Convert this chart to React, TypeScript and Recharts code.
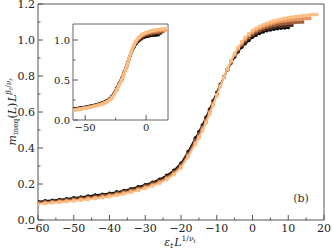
import React from "react";
import { ScatterChart, Scatter, XAxis, YAxis, ReferenceArea } from "recharts";

// main panel: scaled x values shared by every system size
const MAIN_X = [
  -60, -58, -56, -54, -52, -50, -48, -46, -44, -42, -40, -38, -36, -34, -32, -30, -28, -26, -24, -22, -20, -18,
  -16, -15, -14, -13, -12, -11, -10, -9, -8, -7, -6, -5, -4, -3, -2, -1, 0, 1, 2, 3, 4, 5, 6, 7, 8, 9, 10, 11, 12,
  13, 14, 15, 16, 17, 18,
];

const MAIN_L1 = [
  0.102, 0.106, 0.11, 0.114, 0.118, 0.123, 0.128, 0.133, 0.138, 0.143, 0.149, 0.156, 0.164, 0.174, 0.184, 0.196, 0.21,
  0.226, 0.248, 0.276, 0.315, 0.38,
  0.455, 0.49, 0.528, 0.57, 0.615, 0.662, 0.708, 0.752, 0.795, 0.835, 0.872, 0.905, 0.935, 0.96, 0.98, 0.997, 1.015,
  1.027, 1.037, 1.045, 1.051, 1.056, 1.06, 1.063, 1.065, 1.067, 1.069,
];
const MAIN_L2 = [
  0.099, 0.103, 0.106, 0.11, 0.114, 0.119, 0.123, 0.128, 0.133, 0.138, 0.144, 0.151, 0.159, 0.169, 0.179, 0.191, 0.205,
  0.221, 0.242, 0.27, 0.309, 0.372,
  0.446, 0.481, 0.52, 0.562, 0.608, 0.656, 0.704, 0.75, 0.794, 0.836, 0.875, 0.91, 0.941, 0.968, 0.989, 1.007, 1.024,
  1.036, 1.047, 1.055, 1.061, 1.066, 1.07, 1.073, 1.076, 1.078, 1.08, 1.082,
];
const MAIN_L3 = [
  0.096, 0.099, 0.102, 0.106, 0.11, 0.114, 0.119, 0.124, 0.128, 0.134, 0.14, 0.147, 0.155, 0.164, 0.174, 0.186, 0.2,
  0.215, 0.236, 0.264, 0.302, 0.365,
  0.438, 0.473, 0.512, 0.555, 0.601, 0.65, 0.699, 0.747, 0.793, 0.838, 0.878, 0.915, 0.948, 0.975, 0.998, 1.016, 1.034,
  1.046, 1.056, 1.065, 1.072, 1.078, 1.083, 1.087, 1.09, 1.092, 1.094, 1.096, 1.098, 1.099, 1.1,
];
const MAIN_L4 = [
  0.092, 0.095, 0.098, 0.102, 0.106, 0.11, 0.114, 0.119, 0.124, 0.129, 0.135, 0.142, 0.15, 0.159, 0.169, 0.181, 0.194,
  0.21, 0.231, 0.258, 0.296, 0.357,
  0.429, 0.464, 0.505, 0.547, 0.595, 0.644, 0.695, 0.745, 0.793, 0.839, 0.881, 0.92, 0.954, 0.983, 1.006, 1.026, 1.043,
  1.055, 1.066, 1.075, 1.082, 1.089, 1.095, 1.1, 1.104, 1.107, 1.11, 1.112, 1.114, 1.116, 1.118, 1.119, 1.12,
];
const MAIN_L5 = [
  0.089, 0.092, 0.095, 0.098, 0.102, 0.106, 0.11, 0.114, 0.119, 0.124, 0.13, 0.137, 0.145, 0.154, 0.164, 0.176, 0.189,
  0.204, 0.225, 0.252, 0.29, 0.35,
  0.42, 0.455, 0.497, 0.54, 0.588, 0.638, 0.69, 0.742, 0.792, 0.84, 0.884, 0.925, 0.96, 0.99, 1.015, 1.035, 1.052,
  1.065, 1.076, 1.085, 1.093, 1.1, 1.106, 1.111, 1.116, 1.12, 1.124, 1.127, 1.13, 1.133, 1.135, 1.137, 1.139, 1.141,
  1.142,
];

// inset
const INSET_X = [
  -60, -58, -56, -54, -52, -50, -48, -46, -44, -42, -40, -38, -36, -34, -32, -30, -28, -26, -24, -22, -20, -18, -16,
  -14, -12, -10, -8, -6, -4, -2, 0, 2, 4, 6, 8, 10, 12, 14, 16, 18,
];
const INSET_L1 = [
  0.135, 0.14, 0.145, 0.15, 0.155, 0.16, 0.166, 0.172, 0.178, 0.185, 0.193, 0.202, 0.212, 0.224, 0.24, 0.262, 0.292,
  0.335, 0.395, 0.455, 0.515, 0.59, 0.675, 0.765, 0.85, 0.915, 0.96, 0.992, 1.015, 1.032, 1.043, 1.051, 1.057, 1.061,
  1.064, 1.066,
];
const INSET_L2 = [
  0.131, 0.136, 0.141, 0.146, 0.151, 0.156, 0.162, 0.169, 0.175, 0.182, 0.19, 0.199, 0.209, 0.221, 0.236, 0.258, 0.288,
  0.331, 0.391, 0.451, 0.511, 0.587, 0.673, 0.766, 0.853, 0.921, 0.969, 1.003, 1.027, 1.045, 1.057, 1.065, 1.071, 1.076,
  1.08, 1.083, 1.085,
];
const INSET_L3 = [
  0.128, 0.133, 0.138, 0.143, 0.148, 0.153, 0.159, 0.165, 0.172, 0.179, 0.187, 0.196, 0.206, 0.218, 0.233, 0.255, 0.284,
  0.327, 0.387, 0.447, 0.507, 0.584, 0.672, 0.767, 0.856, 0.927, 0.978, 1.013, 1.039, 1.057, 1.07, 1.079, 1.086, 1.092,
  1.096, 1.1, 1.103, 1.105,
];
const INSET_L4 = [
  0.124, 0.129, 0.134, 0.139, 0.144, 0.149, 0.155, 0.162, 0.168, 0.175, 0.183, 0.192, 0.202, 0.214, 0.229, 0.251, 0.28,
  0.322, 0.382, 0.442, 0.503, 0.581, 0.67, 0.768, 0.859, 0.933, 0.987, 1.024, 1.051, 1.07, 1.083, 1.093, 1.101, 1.107,
  1.112, 1.116, 1.12, 1.123, 1.125,
];
const INSET_L5 = [
  0.12, 0.125, 0.13, 0.135, 0.14, 0.146, 0.152, 0.158, 0.165, 0.172, 0.18, 0.189, 0.199, 0.211, 0.226, 0.247, 0.276,
  0.318, 0.378, 0.438, 0.5, 0.578, 0.668, 0.77, 0.862, 0.938, 0.995, 1.034, 1.062, 1.08, 1.094, 1.105, 1.114, 1.121,
  1.127, 1.132, 1.136, 1.139, 1.142, 1.145,
];

const COLORS = ["#000000", "#4d2e1c", "#9c5f3b", "#e8965c", "#fdbd84"];

const MAIN_XTICKS = [-60, -55, -50, -45, -40, -35, -30, -25, -20, -15, -10, -5, 0, 5, 10, 15, 20];
const MAIN_YTICKS = [0, 0.1, 0.2, 0.3, 0.4, 0.5, 0.6, 0.7, 0.8, 0.9, 1.0, 1.1, 1.2];
const INSET_XTICKS = [-50, -25, 0];
const INSET_YTICKS = [0, 0.25, 0.5, 0.75, 1.0];

const FONT = "DejaVu Serif, serif";
const AXIS = "#555";

const toPoints = (xs: number[], ys: number[]) => ys.map((y, i) => ({ x: xs[i], y }));
const fmtX = (v: number) => (v < 0 ? "\u2212" + Math.abs(v) : String(v));

const square = (color: string, s: number) => (p: any) =>
  <rect x={p.cx - s / 2} y={p.cy - s / 2} width={s} height={s} fill={color} />;
const dot = (color: string, r: number) => (p: any) => <circle cx={p.cx} cy={p.cy} r={r} fill={color} />;

const makeXTick = (isMajor: (v: number) => boolean, len: number, fs: number) => (props: any) => {
  const { x, y, payload } = props;
  const v = payload.value;
  const major = isMajor(v);
  return (
    <g>
      <line x1={x} x2={x} y1={y} y2={y - (major ? len : len / 2)} stroke={AXIS} />
      {major && (
        <text x={x} y={y + fs + 1} textAnchor="middle" style={{ fontFamily: FONT }} fontSize={fs} fill="#222">
          {fmtX(v)}
        </text>
      )}
    </g>
  );
};

const makeYTick = (isMajor: (v: number) => boolean, len: number, fs: number) => (props: any) => {
  const { x, y, payload } = props;
  const v = payload.value;
  const major = isMajor(v);
  return (
    <g>
      <line x1={x} x2={x + (major ? len : len / 2)} y1={y} y2={y} stroke={AXIS} />
      {major && (
        <text x={x - 3} y={y + fs * 0.36} textAnchor="end" style={{ fontFamily: FONT }} fontSize={fs} fill="#222">
          {v.toFixed(1)}
        </text>
      )}
    </g>
  );
};

const mainSeries = [MAIN_L1, MAIN_L2, MAIN_L3, MAIN_L4, MAIN_L5];
const insetSeries = [INSET_L1, INSET_L2, INSET_L3, INSET_L4, INSET_L5];

export default function App() {
  return (
    <div style={{ position: "absolute", left: 0, top: 0, width: 332, height: 251, background: "#fff" }}>
      <ScatterChart width={332} height={251} margin={{ top: 4, right: 8, bottom: 0, left: 0 }}>
        <XAxis
          type="number"
          dataKey="x"
          domain={[-60, 20]}
          ticks={MAIN_XTICKS}
          interval={0}
          allowDataOverflow
          height={31}
          tickLine={false}
          tickSize={0}
          tickMargin={0}
          axisLine={false}
          tick={makeXTick((v) => v % 10 === 0, 5, 11)}
        />
        <YAxis
          type="number"
          dataKey="y"
          domain={[0, 1.2]}
          ticks={MAIN_YTICKS}
          interval={0}
          allowDataOverflow
          width={38}
          tickLine={false}
          tickSize={0}
          tickMargin={0}
          axisLine={false}
          tick={makeYTick((v) => Math.round(v * 10) % 2 === 0, 5, 11)}
        />
        <ReferenceArea x1={-60} x2={20} y1={0} y2={1.2} fill="none" stroke={AXIS} strokeWidth={1} />
        {mainSeries.map((ys, i) => (
          <Scatter
            key={i}
            data={toPoints(MAIN_X, ys)}
            fill={COLORS[i]}
            line={{ stroke: COLORS[i], strokeWidth: 1.6 }}
            shape={i === 0 ? dot(COLORS[i], 1.8) : square(COLORS[i], 3.4)}
            isAnimationActive={false}
          />
        ))}
      </ScatterChart>

      <div style={{ position: "absolute", left: 40, top: 20 }}>
        <ScatterChart width={132} height={116} margin={{ top: 4, right: 4, bottom: 0, left: 0 }}>
          <XAxis
            type="number"
            dataKey="x"
            domain={[-60, 18]}
            ticks={INSET_XTICKS}
            interval={0}
            allowDataOverflow
            height={16}
            tickLine={false}
            tickSize={0}
            tickMargin={0}
            axisLine={false}
            tick={makeXTick((v) => v % 50 === 0, 5, 10)}
          />
          <YAxis
            type="number"
            dataKey="y"
            domain={[0, 1.2]}
            ticks={INSET_YTICKS}
            interval={0}
            allowDataOverflow
            width={33}
            tickLine={false}
            tickSize={0}
            tickMargin={0}
            axisLine={false}
            tick={makeYTick((v) => Math.round(v * 100) % 50 === 0, 5, 10)}
          />
          <ReferenceArea x1={-60} x2={18} y1={0} y2={1.2} fill="#fff" fillOpacity={1} stroke="#666" strokeWidth={1} />
          {insetSeries.map((ys, i) => (
            <Scatter
              key={i}
              data={toPoints(INSET_X, ys)}
              fill={COLORS[i]}
              line={{ stroke: COLORS[i], strokeWidth: 3 }}
              shape={square(COLORS[i], 3)}
              isAnimationActive={false}
            />
          ))}
        </ScatterChart>
      </div>

      <svg width={332} height={251} style={{ position: "absolute", left: 0, top: 0, pointerEvents: "none", fontFamily: FONT }}>
        <text x={180} y={246} textAnchor="middle" fontSize={11} fill="#222">
          <tspan fontStyle="italic">ε</tspan>
          <tspan fontSize={7.5} dy={2} fontStyle="italic">t</tspan>
          <tspan dy={-2} fontStyle="italic" dx={1}>L</tspan>
          <tspan fontSize={7.5} dy={-5}>1/</tspan>
          <tspan fontSize={7.5} fontStyle="italic">ν</tspan>
          <tspan fontSize={5.5} dy={1.5} fontStyle="italic">t</tspan>
        </text>
        <g transform="translate(16,112) rotate(-90)">
          <text x={0} y={0} textAnchor="middle" fontSize={11} fill="#222">
            <tspan fontStyle="italic">m</tspan>
            <tspan fontSize={7.5} dy={2}>ineq</tspan>
            <tspan dy={-2}>(</tspan>
            <tspan fontStyle="italic">L</tspan>
            <tspan>)</tspan>
            <tspan fontStyle="italic" dx={1}>L</tspan>
            <tspan fontSize={7.5} dy={-5} fontStyle="italic">β</tspan>
            <tspan fontSize={5.5} dy={1.5} fontStyle="italic">t</tspan>
            <tspan fontSize={7.5} dy={-1.5}>/</tspan>
            <tspan fontSize={7.5} fontStyle="italic">ν</tspan>
            <tspan fontSize={5.5} dy={1.5} fontStyle="italic">t</tspan>
          </text>
        </g>
        <text x={301} y={202} textAnchor="middle" fontSize={11} fill="#333">
          (b)
        </text>
      </svg>
    </div>
  );
}
